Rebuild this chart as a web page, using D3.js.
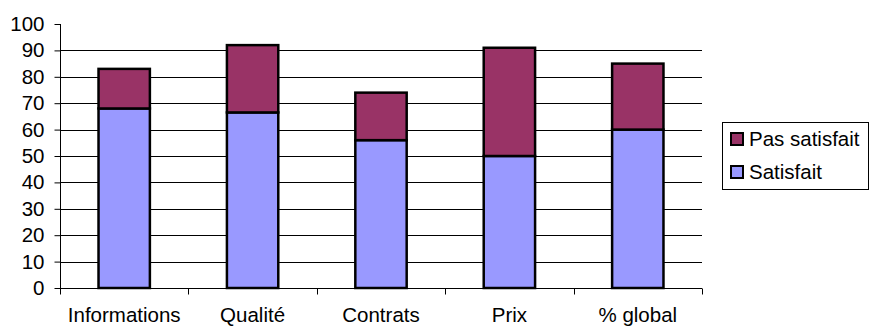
<!DOCTYPE html>
<html>
<head>
<meta charset="utf-8">
<script src="https://cdn.jsdelivr.net/npm/d3@7"></script>
<style>
  body { margin: 0; background: #fff; }
  svg { display: block; font-family: "Liberation Sans", Arial, sans-serif; }
</style>
</head>
<body>
<svg id="chart" width="869" height="329"></svg>
<script>
// data
var categories = ['Informations', 'Qualité', 'Contrats', 'Prix', '% global']
var satisfait = [68, 66.5, 56, 50, 60]
var pasSatisfait = [15, 25.5, 18, 41, 25]
var seriesNames = ['Satisfait', 'Pas satisfait']
var yTicks = [0, 10, 20, 30, 40, 50, 60, 70, 80, 90, 100]

var colorSat = '#9999ff'
var colorPas = '#993366'
var fontSize = 20.5

var svg = d3.select('#chart')
var plotLeft = 60, plotRight = 702, plotTop = 24, plotBottom = 288

var x = d3.scaleBand()
  .domain(categories)
  .range([plotLeft, plotRight])
  .paddingInner(0.6)
  .paddingOuter(0.3)

var y = d3.scaleLinear().domain([0, 100]).range([plotBottom, plotTop])

//
// gridlines
//
svg.append('g')
  .selectAll('line')
  .data(yTicks.filter(function (d) { return d > 0 && d < 100 }))
  .join('line')
  .attr('x1', plotLeft).attr('x2', plotRight)
  .attr('y1', function (d) { return Math.round(y(d)) + 0.5 })
  .attr('y2', function (d) { return Math.round(y(d)) + 0.5 })
  .attr('stroke', '#000')
  .attr('stroke-width', 1)

//
// stacked bars
//
var rows = categories.map(function (c, i) {
  return { cat: c, Satisfait: satisfait[i], 'Pas satisfait': pasSatisfait[i] }
})
var stack = d3.stack().keys(seriesNames)(rows)
var colors = { 'Satisfait': colorSat, 'Pas satisfait': colorPas }

svg.append('g')
  .selectAll('g')
  .data(stack)
  .join('g')
  .attr('fill', function (s) { return colors[s.key] })
  .selectAll('rect')
  .data(function (s) { return s })
  .join('rect')
  .attr('x', function (d) { return x(d.data.cat) })
  .attr('width', x.bandwidth())
  .attr('y', function (d) { return y(d[1]) })
  .attr('height', function (d) { return y(d[0]) - y(d[1]) })
  .attr('stroke', '#000')
  .attr('stroke-width', 2.5)

//
// axes
//
var yAxis = d3.axisLeft(y).tickValues(yTicks).tickSize(6).tickPadding(10)
var gy = svg.append('g').attr('transform', 'translate(' + (plotLeft + 0.5) + ',0)').call(yAxis)
gy.select('.domain').attr('d', 'M0,' + plotTop + 'V' + plotBottom).attr('stroke', '#000')
gy.selectAll('text').attr('font-size', fontSize).attr('font-family', 'Liberation Sans, Arial').attr('fill', '#000')

var xAxis = d3.axisBottom(x).tickSize(0).tickPadding(19)
var gx = svg.append('g').attr('transform', 'translate(0,' + (plotBottom + 0.5) + ')').call(xAxis)
gx.select('.domain').attr('d', 'M' + plotLeft + ',0H' + plotRight).attr('stroke', '#000')
gx.selectAll('text').attr('font-size', fontSize).attr('font-family', 'Liberation Sans, Arial').attr('fill', '#000')

// tick marks between categories
var step = x.step()
gx.selectAll('.sep')
  .data(d3.range(categories.length + 1))
  .join('line')
  .attr('class', 'sep')
  .attr('x1', function (i) { return Math.round(plotLeft + i * step) + 0.5 })
  .attr('x2', function (i) { return Math.round(plotLeft + i * step) + 0.5 })
  .attr('y1', 0).attr('y2', 6)
  .attr('stroke', '#000')

//
// legend
//
var legend = svg.append('g')
legend.append('rect')
  .attr('x', 722.5).attr('y', 122.5).attr('width', 146).attr('height', 67)
  .attr('fill', '#fff').attr('stroke', '#000')

var legendItems = ['Pas satisfait', 'Satisfait']
var li = legend.selectAll('.item')
  .data(legendItems)
  .join('g')
  .attr('class', 'item')
  .attr('transform', function (d, i) { return 'translate(731,' + (133 + i * 33) + ')' })
li.append('rect')
  .attr('width', 12).attr('height', 12)
  .attr('fill', function (d) { return colors[d] })
  .attr('stroke', '#000').attr('stroke-width', 2)
li.append('text')
  .attr('x', 18).attr('y', 13)
  .attr('font-size', fontSize)
  .text(function (d) { return d })
</script>
</body>
</html>
